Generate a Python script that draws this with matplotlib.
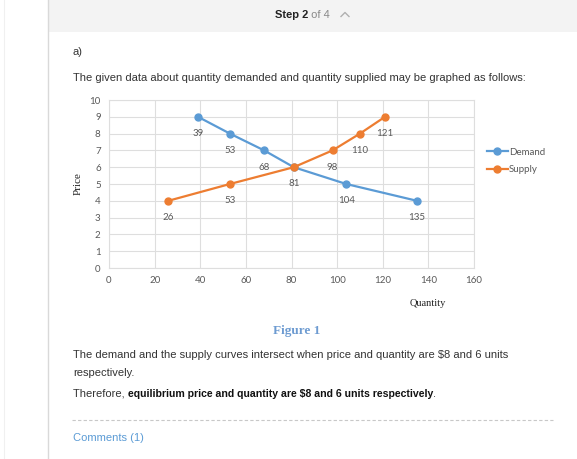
import matplotlib.pyplot as plt
from matplotlib.lines import Line2D

# Data
demand_qty = [39, 53, 68, 81, 104, 135]
demand_price = [9, 8, 7, 6, 5, 4]
supply_qty = [26, 53, 81, 98, 110, 121]
supply_price = [4, 5, 6, 7, 8, 9]
supply_labels = ['26', '53', '', '98', '110', '121']
x_ticks = [0, 20, 40, 60, 80, 100, 120, 140, 160]
y_ticks = list(range(0, 11))

blue = '#5B9BD5'
orange = '#ED7D31'
gray_txt = '#595959'
page_txt = '#333333'

fig = plt.figure(figsize=(5.77, 4.59), dpi=100)
W, H = 577, 459

def fx(px):
    return px / W

def fy(py):
    return 1 - py / H

# page background pieces
bg = fig.add_axes([0, 0, 1, 1], zorder=-1)
bg.set_xlim(0, W)
bg.set_ylim(H, 0)
bg.axis('off')
bg.add_patch(plt.Rectangle((48, 0), W - 48, 32, color='#f3f3f3', lw=0))
bg.plot([48, 48], [0, H], color='#d9d9d9', lw=1)
bg.plot([3.5, 3.5], [0, H], color='#f0f0f0', lw=0.8)
bg.plot([72, 553], [420, 420], color='#c8c8c8', lw=0.8, ls=(0, (3, 2)))
# collapse chevron in the header
bg.plot([341, 345, 349], [16.5, 12.5, 16.5], color='#b0b0b0', lw=1)

# header
step = fig.text(fx(275), fy(15), 'Step 2', fontsize=8, fontweight='bold', color='#222222',
                family='Liberation Sans', va='center')
bg.annotate(' of 4', xy=(1, 0.5), xycoords=step, va='center', fontsize=8,
            color='#888888', family='Liberation Sans')

fig.text(fx(73), fy(52), 'a)', fontsize=8, color=page_txt, family='Liberation Sans', va='center')
fig.text(fx(73), fy(78), 'The given data about quantity demanded and quantity supplied may be graphed as follows:',
         fontsize=8, color=page_txt, family='Liberation Sans', va='center')

# chart
ax = fig.add_axes([fx(109), fy(268), fx(474) - fx(109), fy(100) - fy(268)])
ax.plot(demand_qty, demand_price, color=blue, lw=1.6, marker='o', ms=5, label='Demand', zorder=3)
ax.plot(supply_qty, supply_price, color=orange, lw=1.6, marker='o', ms=5, label='Supply', zorder=3)

for q, p in zip(demand_qty, demand_price):
    ax.annotate(str(q), (q, p), xytext=(0, -12), textcoords='offset points',
                ha='center', va='center', fontsize=7, color=gray_txt, family='Lato')
for q, p, lab in zip(supply_qty, supply_price, supply_labels):
    if lab:
        ax.annotate(lab, (q, p), xytext=(0, -12), textcoords='offset points',
                    ha='center', va='center', fontsize=7, color=gray_txt, family='Lato')

ax.set_xlim(0, 160)
ax.set_ylim(0, 10)
ax.set_xticks(x_ticks)
ax.set_yticks(y_ticks)
ax.grid(True, color='#dedede', lw=0.8)
for s in ax.spines.values():
    s.set_color('#dedede')
    s.set_linewidth(0.8)
ax.tick_params(length=0, labelsize=7, labelcolor=gray_txt, pad=6)
for t in ax.get_xticklabels() + ax.get_yticklabels():
    t.set_family('Lato')
ax.set_ylabel('Price', family='Liberation Serif', fontsize=8, color='#222222', labelpad=5)
fig.text(fx(428), fy(303), 'Quantity', family='Liberation Serif', fontsize=7.5,
         color='#222222', ha='center', va='center')

handles = [Line2D([], [], color=blue, lw=1.6, marker='o', ms=5),
           Line2D([], [], color=orange, lw=1.6, marker='o', ms=5)]
fig.legend(handles, ['Demand', 'Supply'], loc='center left',
           bbox_to_anchor=(fx(478), fy(161)), frameon=False, handlelength=2.2,
           handletextpad=0.1, labelspacing=0.9,
           prop={'family': 'Lato', 'size': 7}, labelcolor=gray_txt)

# caption and text below
fig.text(fx(297), fy(331), 'Figure 1', family='Liberation Serif', fontsize=9.5,
         fontweight='bold', color='#6d9bd1', ha='center', va='center')
fig.text(fx(73), fy(355), 'The demand and the supply curves intersect when price and quantity are $8 and 6 units',
         fontsize=8, color=page_txt, family='Liberation Sans', va='center')
fig.text(fx(73), fy(373), 'respectively.', fontsize=8, color=page_txt,
         family='Liberation Sans', va='center')
t1 = fig.text(fx(73), fy(394), 'Therefore, ', fontsize=8, color=page_txt,
              family='Liberation Sans', va='center')
t2 = bg.annotate('equilibrium price and quantity are $8 and 6 units respectively',
                 xy=(1, 0.5), xycoords=t1, va='center', fontsize=7.6, color='#111111',
                 family='Liberation Sans', fontweight='bold')
bg.annotate('.', xy=(1, 0.5), xycoords=t2, va='center', fontsize=8, color=page_txt,
            family='Liberation Sans')
fig.text(fx(73), fy(438), 'Comments (1)', fontsize=8, color='#5b9bd5',
         family='Liberation Sans', va='center')

fig.savefig('out.png', dpi=100)
